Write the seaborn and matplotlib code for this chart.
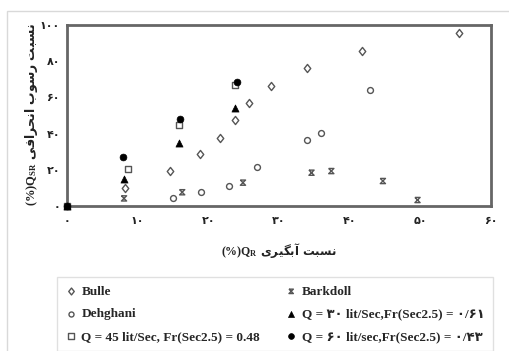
import matplotlib
matplotlib.use("Agg")
import matplotlib.pyplot as plt
from matplotlib.path import Path
from matplotlib.patches import Rectangle
from matplotlib.font_manager import FontProperties
import seaborn as sns
import pandas as pd

# ---- data: water intake ratio Q_R (%) vs diverted sediment ratio Q_SR (%) ----
bulle_qr = [8.2, 14.6, 18.8, 21.7, 23.8, 25.75, 28.9, 34.0, 41.7, 55.5]
bulle_qsr = [9.8, 19.5, 28.7, 37.7, 47.5, 57.1, 66.5, 76.1, 85.8, 95.4]

dehghani_qr = [14.95, 18.9, 22.9, 26.9, 34.0, 35.9, 42.9]
dehghani_qsr = [4.2, 7.9, 11.0, 21.4, 36.5, 40.5, 64.1]

barkdoll_qr = [8.07, 16.3, 24.9, 34.6, 37.4, 44.7, 49.6]
barkdoll_qsr = [4.2, 7.6, 12.9, 18.4, 19.3, 13.8, 3.3]

q45_qr = [0, 8.68, 15.8, 23.8]
q45_qsr = [0, 20.6, 44.7, 66.9]

q30_qr = [0, 8.1, 15.9, 23.8]
q30_qsr = [0, 14.7, 35.0, 54.3]

q60_qr = [0, 7.97, 16.0, 24.0]
q60_qsr = [0, 26.9, 47.9, 68.7]

x_ticks = [0, 10, 20, 30, 40, 50, 60]
x_tick_labels = ["۰", "۱۰", "۲۰", "۳۰", "۴۰", "۵۰", "۶۰"]
y_ticks = [0, 20, 40, 60, 80, 100]
y_tick_labels = ["۰", "۲۰", "۴۰", "۶۰", "۸۰", "۱۰۰"]

label_bulle = "Bulle"
label_dehghani = "Dehghani"
label_barkdoll = "Barkdoll"
label_q45 = "Q = 45 lit/Sec, Fr(Sec2.5) = 0.48"
label_q30 = "Q = ۳۰ lit/Sec,Fr(Sec2.5) = ۰/۶۱"
label_q60 = "Q = ۶۰ lit/sec,Fr(Sec2.5) = ۰/۴۳"

x_title_fa = "نسبت آبگیری"
y_title_fa = "نسبت رسوب انحرافی"

# ---- minimal Persian shaping (matplotlib has no complex text layout) ----
_FORMS = {  # isolated, final, initial, medial
    "ا": ("\uFE8D", "\uFE8E", None, None),
    "آ": ("\uFE81", "\uFE82", None, None),
    "ب": ("\uFE8F", "\uFE90", "\uFE91", "\uFE92"),
    "ت": ("\uFE95", "\uFE96", "\uFE97", "\uFE98"),
    "ح": ("\uFEA1", "\uFEA2", "\uFEA3", "\uFEA4"),
    "ر": ("\uFEAD", "\uFEAE", None, None),
    "س": ("\uFEB1", "\uFEB2", "\uFEB3", "\uFEB4"),
    "ف": ("\uFED1", "\uFED2", "\uFED3", "\uFED4"),
    "گ": ("\uFB92", "\uFB93", "\uFB94", "\uFB95"),
    "ن": ("\uFEE5", "\uFEE6", "\uFEE7", "\uFEE8"),
    "و": ("\uFEED", "\uFEEE", None, None),
    "ی": ("\uFBFC", "\uFBFD", "\uFBFE", "\uFBFF"),
}


def _joins_left(c):
    return c in _FORMS and _FORMS[c][2] is not None


def rtl(text):
    out = []
    for i, c in enumerate(text):
        if c not in _FORMS:
            out.append(c)
            continue
        prev_j = i > 0 and _joins_left(text[i - 1])
        next_j = _joins_left(c) and i + 1 < len(text) and text[i + 1] in _FORMS
        iso, fin, ini, med = _FORMS[c]
        out.append(med if prev_j and next_j else fin if prev_j else ini if next_j else iso)
    return "".join(reversed(out))


# ---- style ----
sns.set_theme(style="white")
plt.rcParams["font.family"] = ["Liberation Serif", "DejaVu Sans"]
plt.rcParams["mathtext.fontset"] = "custom"
plt.rcParams["mathtext.bf"] = "Liberation Serif:bold"
plt.rcParams["mathtext.rm"] = "Liberation Serif"

W, H = 509, 351
fig = plt.figure(figsize=(W / 100, H / 100), dpi=100)
fig.patch.set_facecolor("white")
ax = fig.add_axes([67 / W, 1 - 206 / H, (491 - 67) / W, (206 - 25) / H])

hourglass = Path([(-1, 1), (1, 1), (-1, -1), (1, -1), (-1, 1)],
                 [Path.MOVETO, Path.LINETO, Path.LINETO, Path.LINETO, Path.LINETO])
diamond = Path([(0, 1), (0.8, 0), (0, -1), (-0.8, 0), (0, 1)],
               [Path.MOVETO, Path.LINETO, Path.LINETO, Path.LINETO, Path.CLOSEPOLY])

edge = "#555555"
series = [
    (bulle_qr, bulle_qsr, label_bulle, dict(marker=diamond, s=34, facecolor="white", edgecolor=edge, linewidth=1.0)),
    (dehghani_qr, dehghani_qsr, label_dehghani, dict(marker="o", s=18, facecolor="white", edgecolor=edge, linewidth=1.0)),
    (q45_qr, q45_qsr, label_q45, dict(marker="s", s=20, facecolor="white", edgecolor=edge, linewidth=1.0)),
    (barkdoll_qr, barkdoll_qsr, label_barkdoll, dict(marker=hourglass, s=14, facecolor="none", edgecolor=edge, linewidth=1.0)),
    (q30_qr, q30_qsr, label_q30, dict(marker="^", s=26, facecolor="black", edgecolor="black", linewidth=0.5)),
    (q60_qr, q60_qsr, label_q60, dict(marker="o", s=24, facecolor="black", edgecolor="black", linewidth=0.5)),
]

handles, labels = [], []
for xs, ys, lab, kw in series:
    df = pd.DataFrame({"QR": xs, "QSR": ys})
    before = len(ax.collections)
    sns.scatterplot(data=df, x="QR", y="QSR", ax=ax, legend=False, zorder=3, **kw)
    coll = ax.collections[before]
    coll.set_clip_on(False)
    handles.append(coll)
    labels.append(lab)

ax.set_xlim(0, 60)
ax.set_ylim(0, 100)
ax.set_xlabel("")
ax.set_ylabel("")

tick_font = FontProperties(family="DejaVu Sans", weight="bold", size=8)
ax.set_xticks(x_ticks)
ax.set_xticklabels(x_tick_labels, fontproperties=tick_font, color="#222222")
ax.set_yticks(y_ticks)
ax.set_yticklabels(y_tick_labels, fontproperties=tick_font, color="#222222")
ax.tick_params(axis="x", direction="in", length=3, width=0.8, color="#c8c8c8", pad=7)
ax.tick_params(axis="y", length=0, pad=5)

for sp in ax.spines.values():
    sp.set_color("#666666")
    sp.set_linewidth(2.0)

title_font = FontProperties(family="DejaVu Sans", weight="bold", size=8.5)
fig.text(279 / W, 1 - 251 / H, r"$\mathbf{(\%)Q_{R}}$ " + rtl(x_title_fa),
         ha="center", va="center", fontproperties=title_font, color="#222222")
fig.text(32 / W, 1 - 115 / H, r"$\mathbf{(\%)Q_{SR}}$ " + rtl(y_title_fa),
         ha="center", va="center", rotation=90,
         fontproperties=FontProperties(family="DejaVu Sans", weight="bold", size=9),
         color="#222222")

# outer chart frame
fig.patches.append(Rectangle((7 / W, -0.2), 1.5, 1.2 - 11 / H, transform=fig.transFigure,
                             fill=False, edgecolor="#d9d9d9", linewidth=1.0))

legend_font = FontProperties(family=["Liberation Serif", "DejaVu Sans"], weight="bold", size=9.5)
leg = fig.legend(handles, labels, ncol=2, loc="upper left",
                 bbox_to_anchor=(57 / W, 1 - 277 / H),
                 prop=legend_font, frameon=True, fancybox=False,
                 edgecolor="#d9d9d9", borderaxespad=0, borderpad=0.65,
                 handlelength=0.8, handletextpad=0.4, labelspacing=0.78,
                 scatterpoints=1, markerscale=0.85, columnspacing=1.95)
leg.get_frame().set_linewidth(1.0)

fig.savefig("out.png", dpi=100, facecolor="white")
